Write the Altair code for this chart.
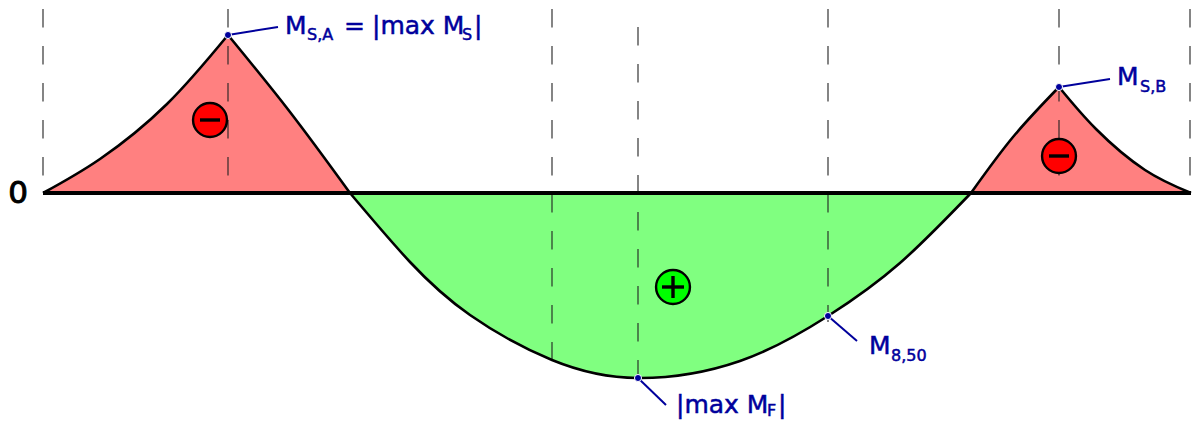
import altair as alt
import pandas as pd

RED_FILL = "#ff8080"
GREEN_FILL = "#80ff80"
BLUE = "#00009c"
BASE = 193

seg_a_x = [43, 100, 167, 228]
seg_a_y = [193, 159, 104, 35]
seg_b_x = [228, 290, 350]
seg_b_y = [35, 112, 193]
seg_c_x = [350, 410, 470, 552, 638, 740, 828, 900, 971]
seg_c_y = [193, 262, 315, 360, 378, 361, 316, 263, 193]
seg_d_x = [971, 1013, 1059]
seg_d_y = [193, 137, 87]
seg_e_x = [1059, 1096, 1145, 1191]
seg_e_y = [87, 129, 170, 193]

dash_x = [43, 228, 552, 828, 1059, 1190, 638]
dash_y1 = [9, 9, 9, 9, 9, 9, 27]
dash_y2 = [176, 176, 360, 322, 176, 176, 397]

sign_x = [210, 673, 1059]
sign_y = [120, 287, 156]
sign_fill = ["#ff0000", "#00ff00", "#ff0000"]

bar_x1 = [200, 662, 1049, 673]
bar_x2 = [220, 684, 1069, 673]
bar_y1 = [120, 287, 156, 276]
bar_y2 = [120, 287, 156, 298]

lead_x1 = [228, 1059, 828, 638]
lead_y1 = [35, 87, 316, 378]
lead_x2 = [278, 1110, 857, 666]
lead_y2 = [27, 79, 341, 405]

txt = ["M", "S,A", "=", "|max M", "S", "|", "M", "S,B", "M", "8,50", "|max M", "F", "|"]
txt_x = [285, 307, 344, 372, 462, 474, 1117, 1140, 869, 891, 676, 767, 778]
txt_y = [34, 40, 34, 34, 40, 34, 85, 92, 354, 361, 413, 415.5, 413]
txt_size = [25, 16, 25, 25, 16, 25, 25, 16, 25, 16, 25, 16, 25]

X = alt.X("x:Q", scale=alt.Scale(domain=[8, 1192]), axis=None)
Y = alt.Y("y:Q", scale=alt.Scale(domain=[420, 8]), axis=None)
X2 = alt.X2("x2:Q")
Y2 = alt.Y2("y2:Q")


def seg(xs, ys):
    return pd.DataFrame({"x": xs, "y": ys, "y2": [BASE] * len(xs)})


def area(xs, ys, color):
    return alt.Chart(seg(xs, ys)).mark_area(color=color, interpolate="natural", opacity=1).encode(x=X, y=Y, y2=Y2)


def curve(xs, ys):
    return alt.Chart(seg(xs, ys)).mark_line(color="black", strokeWidth=2.6, interpolate="natural").encode(x=X, y=Y)


pairs = [(seg_a_x, seg_a_y, RED_FILL), (seg_b_x, seg_b_y, RED_FILL), (seg_c_x, seg_c_y, GREEN_FILL),
         (seg_d_x, seg_d_y, RED_FILL), (seg_e_x, seg_e_y, RED_FILL)]
areas = [area(a, b, c) for a, b, c in pairs]
curves = [curve(a, b) for a, b, _ in pairs]

dashes = alt.Chart(pd.DataFrame({"x": dash_x, "y": dash_y1, "y2": dash_y2})).mark_rule(
    color="#222222", strokeWidth=1.1, strokeDash=[18.5, 18.5]).encode(x=X, y=Y, y2=Y2)

zero = alt.Chart(pd.DataFrame({"x": [43], "x2": [1191], "y": [BASE]})).mark_rule(
    color="black", strokeWidth=4.2).encode(x=X, x2=X2, y=Y)

zero_label = alt.Chart(pd.DataFrame({"x": [18], "y": [194], "t": ["0"]})).mark_text(
    font="DejaVu Sans", fontSize=31, align="center", baseline="middle", color="black",
    stroke="black", strokeWidth=1
).encode(x=X, y=Y, text="t:N")

signs = alt.Chart(pd.DataFrame({"x": sign_x, "y": sign_y, "c": sign_fill})).mark_point(
    shape="circle", size=1150, filled=True, stroke="black", strokeWidth=2.4, opacity=1
).encode(x=X, y=Y, fill=alt.Fill("c:N", scale=None))

bars = alt.Chart(pd.DataFrame({"x": bar_x1, "x2": bar_x2, "y": bar_y1, "y2": bar_y2})).mark_rule(
    color="black", strokeWidth=3.4).encode(x=X, x2=X2, y=Y, y2=Y2)

leaders = alt.Chart(pd.DataFrame({"x": lead_x1, "x2": lead_x2, "y": lead_y1, "y2": lead_y2})).mark_rule(
    color=BLUE, strokeWidth=2).encode(x=X, x2=X2, y=Y, y2=Y2)

dots = alt.Chart(pd.DataFrame({"x": lead_x1, "y": lead_y1})).mark_point(
    shape="circle", size=50, filled=True, fill=BLUE, stroke="white", strokeWidth=1, opacity=1
).encode(x=X, y=Y)

labels = alt.Chart(pd.DataFrame({"x": txt_x, "y": txt_y, "t": txt, "s": txt_size})).mark_text(
    font="DejaVu Sans", align="left", baseline="alphabetic", color=BLUE, stroke=BLUE, strokeWidth=0.5
).encode(x=X, y=Y, text="t:N", size=alt.Size("s:Q", scale=None))

chart = alt.layer(
    *areas, dashes, *curves, zero, zero_label, signs, bars, leaders, dots, labels
).properties(
    width=1184, height=412, padding=0, autosize=alt.AutoSizeParams(type="none"), background="white"
).configure_view(stroke=None)

chart.save("out.html", embed_options={"renderer": "svg", "actions": False})
